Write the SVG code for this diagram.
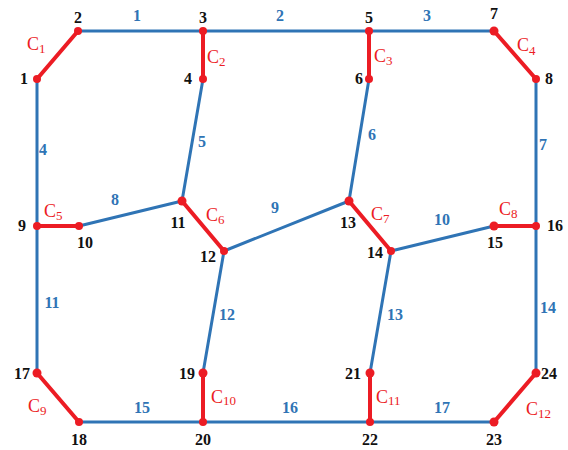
<svg xmlns="http://www.w3.org/2000/svg" width="568" height="450" viewBox="0 0 568 450">
<style>
.b{stroke:#2F74B5;stroke-width:3;fill:none;stroke-linecap:round}
.r{stroke:#EC1C24;stroke-width:4;fill:none;stroke-linecap:round}
.d{fill:#EC1C24}
.n{font-family:"Liberation Serif",serif;font-weight:bold;font-size:16px;fill:#111;text-anchor:middle}
.e{font-family:"Liberation Serif",serif;font-weight:bold;font-size:16px;fill:#2F74B5;text-anchor:middle}
.c{font-family:"Liberation Serif",serif;font-size:18px;fill:#EC1C24}
.s{font-size:13px}
</style>
<rect width="568" height="450" fill="#fff"/>
<g id="connectors">
<line class="b" x1="78" y1="31" x2="203" y2="31"/>
<line class="b" x1="203" y1="31" x2="369" y2="31"/>
<line class="b" x1="369" y1="31" x2="494" y2="31"/>
<line class="b" x1="37" y1="79" x2="37" y2="226"/>
<line class="b" x1="203" y1="79" x2="182" y2="201"/>
<line class="b" x1="369" y1="79" x2="349" y2="201"/>
<line class="b" x1="536" y1="79" x2="536" y2="226"/>
<line class="b" x1="79" y1="226" x2="182" y2="201"/>
<line class="b" x1="224" y1="251" x2="349" y2="201"/>
<line class="b" x1="391" y1="251" x2="494" y2="226"/>
<line class="b" x1="37" y1="226" x2="37" y2="373"/>
<line class="b" x1="224" y1="251" x2="203" y2="373"/>
<line class="b" x1="391" y1="251" x2="370" y2="373"/>
<line class="b" x1="536" y1="226" x2="536" y2="373"/>
<line class="b" x1="79" y1="422" x2="203" y2="422"/>
<line class="b" x1="203" y1="422" x2="370" y2="422"/>
<line class="b" x1="370" y1="422" x2="494" y2="422"/>
<line class="r" x1="37" y1="79" x2="78" y2="31"/>
<line class="r" x1="203" y1="31" x2="203" y2="79"/>
<line class="r" x1="369" y1="31" x2="369" y2="79"/>
<line class="r" x1="494" y1="31" x2="536" y2="79"/>
<line class="r" x1="37" y1="226" x2="79" y2="226"/>
<line class="r" x1="182" y1="201" x2="224" y2="251"/>
<line class="r" x1="349" y1="201" x2="391" y2="251"/>
<line class="r" x1="494" y1="226" x2="536" y2="226"/>
<line class="r" x1="37" y1="373" x2="79" y2="422"/>
<line class="r" x1="203" y1="373" x2="203" y2="422"/>
<line class="r" x1="370" y1="373" x2="370" y2="422"/>
<line class="r" x1="494" y1="422" x2="536" y2="373"/>
<text class="e" x="137" y="21">1</text>
<text class="e" x="280" y="21">2</text>
<text class="e" x="427" y="21">3</text>
<text class="e" x="43" y="155">4</text>
<text class="e" x="202" y="147">5</text>
<text class="e" x="372" y="140">6</text>
<text class="e" x="543" y="150">7</text>
<text class="e" x="115" y="205">8</text>
<text class="e" x="275" y="213">9</text>
<text class="e" x="442" y="225">10</text>
<text class="e" x="52" y="308">11</text>
<text class="e" x="227" y="320">12</text>
<text class="e" x="395" y="320">13</text>
<text class="e" x="548" y="313">14</text>
<text class="e" x="142" y="413">15</text>
<text class="e" x="290" y="413">16</text>
<text class="e" x="442" y="413">17</text>
<text class="c" x="27" y="50">C<tspan class="s" dy="3">1</tspan></text>
<text class="c" x="207" y="63">C<tspan class="s" dy="3">2</tspan></text>
<text class="c" x="374" y="62">C<tspan class="s" dy="3">3</tspan></text>
<text class="c" x="517" y="51">C<tspan class="s" dy="4">4</tspan></text>
<text class="c" x="44" y="217">C<tspan class="s" dy="3">5</tspan></text>
<text class="c" x="206" y="221">C<tspan class="s" dy="3">6</tspan></text>
<text class="c" x="371" y="220">C<tspan class="s" dy="3">7</tspan></text>
<text class="c" x="499" y="215">C<tspan class="s" dy="3">8</tspan></text>
<text class="c" x="28" y="412">C<tspan class="s" dy="3">9</tspan></text>
<text class="c" x="211" y="403">C<tspan class="s" dy="2">10</tspan></text>
<text class="c" x="376" y="403">C<tspan class="s" dy="2">11</tspan></text>
<text class="c" x="526" y="415">C<tspan class="s" dy="3">12</tspan></text>
</g>
<g id="n1"><circle class="d" cx="37" cy="79" r="4"/><text class="n" x="24" y="84">1</text></g>
<g id="n2"><circle class="d" cx="78" cy="31" r="4"/><text class="n" x="78" y="23">2</text></g>
<g id="n3"><circle class="d" cx="203" cy="31" r="4"/><text class="n" x="203" y="23">3</text></g>
<g id="n4"><circle class="d" cx="203" cy="79" r="4"/><text class="n" x="188" y="84">4</text></g>
<g id="n5"><circle class="d" cx="369" cy="31" r="4"/><text class="n" x="369" y="23">5</text></g>
<g id="n6"><circle class="d" cx="369" cy="79" r="4"/><text class="n" x="359" y="84">6</text></g>
<g id="n7"><circle class="d" cx="494" cy="31" r="4.5"/><text class="n" x="494" y="19">7</text></g>
<g id="n8"><circle class="d" cx="536" cy="79" r="4"/><text class="n" x="549" y="84">8</text></g>
<g id="n9"><circle class="d" cx="37" cy="226" r="4"/><text class="n" x="22" y="231">9</text></g>
<g id="n10"><circle class="d" cx="79" cy="226" r="4"/><text class="n" x="85" y="248">10</text></g>
<g id="n11"><circle class="d" cx="182" cy="201" r="4.5"/><text class="n" x="178" y="228">11</text></g>
<g id="n12"><circle class="d" cx="224" cy="251" r="4"/><text class="n" x="208" y="262">12</text></g>
<g id="n13"><circle class="d" cx="349" cy="201" r="4.5"/><text class="n" x="348" y="228">13</text></g>
<g id="n14"><circle class="d" cx="391" cy="251" r="4"/><text class="n" x="375" y="258">14</text></g>
<g id="n15"><circle class="d" cx="494" cy="226" r="4.5"/><text class="n" x="495" y="248">15</text></g>
<g id="n16"><circle class="d" cx="536" cy="226" r="4"/><text class="n" x="555" y="231">16</text></g>
<g id="n17"><circle class="d" cx="37" cy="373" r="4.5"/><text class="n" x="22" y="379">17</text></g>
<g id="n18"><circle class="d" cx="79" cy="422" r="4"/><text class="n" x="79" y="445">18</text></g>
<g id="n19"><circle class="d" cx="203" cy="373" r="4.5"/><text class="n" x="187" y="379">19</text></g>
<g id="n20"><circle class="d" cx="203" cy="422" r="4"/><text class="n" x="203" y="445">20</text></g>
<g id="n21"><circle class="d" cx="370" cy="373" r="4.5"/><text class="n" x="353" y="379">21</text></g>
<g id="n22"><circle class="d" cx="370" cy="422" r="4"/><text class="n" x="370" y="445">22</text></g>
<g id="n23"><circle class="d" cx="494" cy="422" r="4.5"/><text class="n" x="494" y="445">23</text></g>
<g id="n24"><circle class="d" cx="536" cy="373" r="4.5"/><text class="n" x="549" y="379">24</text></g>
</svg>
